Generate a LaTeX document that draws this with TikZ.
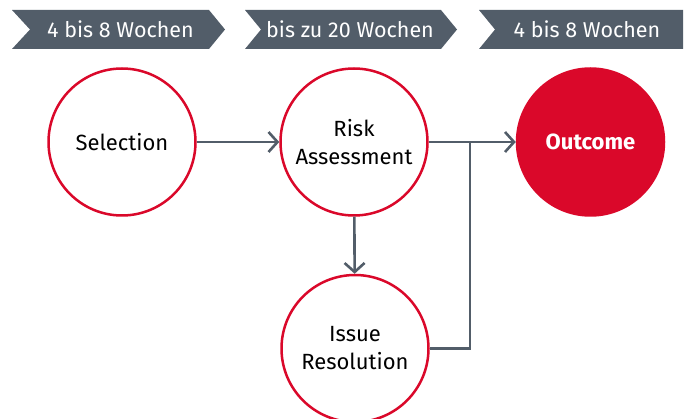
\documentclass[tikz,border=0pt]{standalone}
\usepackage{fontspec}
\setmainfont{Fira Sans}
\usetikzlibrary{arrows.meta}
\definecolor{slate}{RGB}{82,93,105}
\definecolor{brandred}{RGB}{218,8,42}
\tikzset{
  chev/.style={fill=slate},
  chevtext/.style={text=white, font=\fontsize{21.5}{24}\selectfont, inner sep=0pt},
  circ/.style={circle, draw=brandred, line width=2.5pt, minimum size=147pt, inner sep=0pt, align=center, font=\fontsize{22}{28}\selectfont, text=black},
  filledcirc/.style={circ, fill=brandred, text=white, font=\fontsize{22}{28}\selectfont\bfseries},
  conn/.style={draw=slate, line width=2.6pt},
  arr/.style={conn, -{Straight Barb[length=9pt, width=20pt, line width=2.6pt]}}
}
\begin{document}
\begin{tikzpicture}[x=1pt, y=-1pt]
\useasboundingbox (0,0) rectangle (688,419);
% chevrons
\fill[chev] (12,10) -- (209,10) -- (225,29.5) -- (209,49) -- (12,49) -- (30,29.5) -- cycle;
\fill[chev] (245,10) -- (441,10) -- (457,29.5) -- (441,49) -- (245,49) -- (261,29.5) -- cycle;
\fill[chev] (479,10) -- (683,10) -- (683,49) -- (479,49) -- (495,29.5) -- cycle;
\node[chevtext] (t1) at (120.5,29.5) {4 bis 8 Wochen};
\node[chevtext] (t2) at (350,29.5) {bis zu 20 Wochen};
\node[chevtext] (t3) at (587,29.5) {4 bis 8 Wochen};
% circles
\node[circ] (sel) at (122,142) {Selection};
\node[circ] (risk) at (354,142) {Risk\\Assessment};
\node[filledcirc] (out) at (590.5,142) {Outcome};
\node[circ] (iss) at (355,348.5) {Issue\\Resolution};
% connectors
\coordinate (j) at (470,142);
\draw[arr] (sel) -- (risk);
\draw[arr] (risk) -- (out);
\draw[arr] (risk) -- (iss);
\draw[conn] (iss.east) -| (j);
\end{tikzpicture}
\end{document}
